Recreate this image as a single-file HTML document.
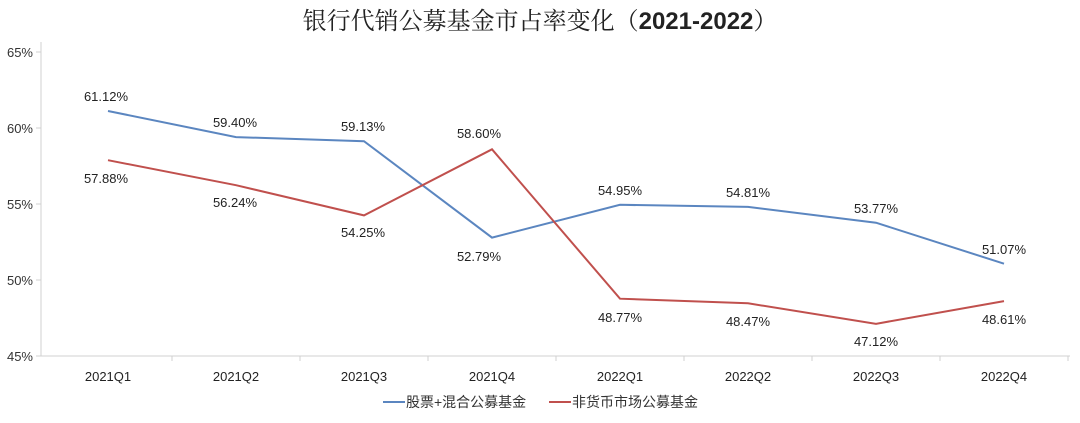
<!DOCTYPE html>
<html><head><meta charset="utf-8"><style>
body{margin:0;background:#fff}
svg text{font-family:"Liberation Sans","Noto Sans CJK SC",sans-serif}
</style></head><body>
<svg width="1080" height="418" viewBox="0 0 1080 418" xmlns="http://www.w3.org/2000/svg">
<rect width="1080" height="418" fill="#fff"/>
<text x="540" y="29" text-anchor="middle" font-size="24" fill="#222" style="font-family:'Noto Serif CJK SC','Noto Sans CJK SC',serif">银行代销公募基金市占率变化（<tspan font-weight="bold" style="font-family:'Liberation Sans',sans-serif">2021-2022</tspan>）</text>
<g font-size="13" fill="#333" text-anchor="end">
<text x="33" y="57">65%</text><text x="33" y="133">60%</text><text x="33" y="209">55%</text><text x="33" y="285">50%</text><text x="33" y="361">45%</text>
</g>
<g stroke="#d0d0d0" stroke-width="1">
<line x1="41" y1="42" x2="41" y2="356"/>
<line x1="36" y1="52" x2="41" y2="52"/><line x1="36" y1="128" x2="41" y2="128"/><line x1="36" y1="204" x2="41" y2="204"/><line x1="36" y1="280" x2="41" y2="280"/><line x1="36" y1="356" x2="41" y2="356"/>
<line x1="41" y1="356" x2="1070" y2="356"/>
<line x1="172" y1="356" x2="172" y2="361"/><line x1="300" y1="356" x2="300" y2="361"/><line x1="428" y1="356" x2="428" y2="361"/><line x1="556" y1="356" x2="556" y2="361"/><line x1="684" y1="356" x2="684" y2="361"/><line x1="812" y1="356" x2="812" y2="361"/><line x1="940" y1="356" x2="940" y2="361"/><line x1="1068" y1="356" x2="1068" y2="361"/>
</g>
<g font-size="13" fill="#222" text-anchor="middle">
<text x="108" y="381">2021Q1</text><text x="236" y="381">2021Q2</text><text x="364" y="381">2021Q3</text><text x="492" y="381">2021Q4</text><text x="620" y="381">2022Q1</text><text x="748" y="381">2022Q2</text><text x="876" y="381">2022Q3</text><text x="1004" y="381">2022Q4</text>
</g>
<polyline fill="none" stroke="#5b86c0" stroke-width="2" points="108,111 236,137.1 364,141.2 492,237.6 620,204.8 748,206.9 876,222.7 1004,263.7"/>
<polyline fill="none" stroke="#c0504d" stroke-width="2" points="108,160.2 236,185.2 364,215.4 492,149.3 620,298.7 748,303.3 876,323.8 1004,301.1"/>
<g font-size="13" fill="#222" text-anchor="middle">
<text x="106" y="101">61.12%</text><text x="235" y="127">59.40%</text><text x="363" y="131">59.13%</text><text x="479" y="256" dx="0" dy="5">52.79%</text><text x="620" y="195">54.95%</text><text x="748" y="197">54.81%</text><text x="876" y="213">53.77%</text><text x="1004" y="254">51.07%</text>
<text x="106" y="183">57.88%</text><text x="235" y="207">56.24%</text><text x="363" y="237">54.25%</text><text x="479" y="138">58.60%</text><text x="620" y="322">48.77%</text><text x="748" y="326">48.47%</text><text x="876" y="346">47.12%</text><text x="1004" y="324">48.61%</text>
</g>
<line x1="383" y1="402" x2="405" y2="402" stroke="#5b86c0" stroke-width="2"/>
<text x="406" y="407" font-size="14" fill="#333">股票+混合公募基金</text>
<line x1="549" y1="402" x2="571" y2="402" stroke="#c0504d" stroke-width="2"/>
<text x="572" y="407" font-size="14" fill="#333">非货币市场公募基金</text>
</svg>
</body></html>
